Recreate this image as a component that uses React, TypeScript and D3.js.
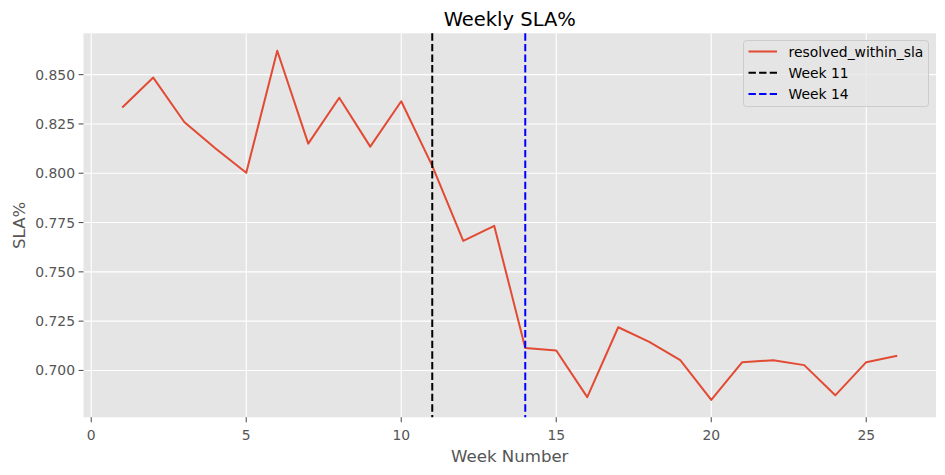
import React from "react";
import * as d3 from "d3";

const weeks: number[] = [1, 2, 3, 4, 5, 6, 7, 8, 9, 10, 11, 12, 13, 14, 15, 16, 17, 18, 19, 20, 21, 22, 23, 24, 25, 26];
const slaValues: number[] = [
  0.8333, 0.8485, 0.826, 0.8127, 0.8002, 0.8621, 0.815, 0.8383, 0.8135, 0.8365,
  0.8037, 0.7657, 0.7733, 0.7114, 0.7101, 0.6865, 0.7219, 0.7145, 0.7052, 0.6851,
  0.7042, 0.7052, 0.7027, 0.6874, 0.7042, 0.7075,
];
const xTicks: number[] = [0, 5, 10, 15, 20, 25];
const yTicks: number[] = [0.7, 0.725, 0.75, 0.775, 0.8, 0.825, 0.85];
const markerWeeks: number[] = [11, 14];
const markerLabels: string[] = ["Week 11", "Week 14"];
const markerColors: string[] = ["#000000", "#0000ff"];
const seriesName = "resolved_within_sla";

const W = 945;
const H = 475;
const left = 83.5;
const right = 936;
const top = 33.3;
const bottom = 417.3;
const FONT = "'DejaVu Sans', sans-serif";
const LINE = "#E24A33";

export default function App() {
  const [x0, x1] = d3.extent(weeks) as [number, number];
  const xp = (x1 - x0) * 0.05;
  const x = d3.scaleLinear().domain([x0 - xp, x1 + xp]).range([left, right]);
  const [y0, y1] = d3.extent(slaValues) as [number, number];
  const yp = (y1 - y0) * 0.05;
  const y = d3.scaleLinear().domain([y0 - yp, y1 + yp]).range([bottom, top]);

  const line = d3
    .line<number>()
    .x((_, i) => x(weeks[i]))
    .y((d) => y(d));

  const legendX = 743.5;
  const legendY = 40.5;
  const legendW = 185;
  const legendH = 66;
  const rows = [
    { label: seriesName, color: LINE, dash: "none" },
    ...markerLabels.map((l, i) => ({ label: l, color: markerColors[i], dash: "5.5,2.4" })),
  ];

  return (
    <svg
      width={W}
      height={H}
      style={{ position: "absolute", left: 0, top: 0, display: "block", background: "#fff" }}
      fontFamily={FONT}
    >
      <rect x={left} y={top} width={right - left} height={bottom - top} fill="#E5E5E5" />
      {xTicks.map((t) => (
        <line key={"gx" + t} x1={x(t)} x2={x(t)} y1={top} y2={bottom} stroke="#fff" strokeWidth={1.1} />
      ))}
      {yTicks.map((t) => (
        <line key={"gy" + t} x1={left} x2={right} y1={y(t)} y2={y(t)} stroke="#fff" strokeWidth={1.1} />
      ))}
      {/* x ticks */}
      {xTicks.map((t) => (
        <g key={"tx" + t}>
          <line x1={x(t)} x2={x(t)} y1={bottom} y2={bottom + 4.9} stroke="#555" strokeWidth={1.1} />
          <text x={x(t)} y={439.5} textAnchor="middle" fontSize={13.9} fill="#555">
            {d3.format("d")(t)}
          </text>
        </g>
      ))}
      {yTicks.map((t) => (
        <g key={"ty" + t}>
          <line x1={left - 4.9} x2={left} y1={y(t)} y2={y(t)} stroke="#555" strokeWidth={1.1} />
          <text x={left - 8.5} y={y(t)} dy="0.36em" textAnchor="end" fontSize={13.9} fill="#555">
            {d3.format(".3f")(t)}
          </text>
        </g>
      ))}
      <path d={line(slaValues) || ""} fill="none" stroke={LINE} strokeWidth={2} strokeLinejoin="round" />
      {markerWeeks.map((w, i) => (
        <line
          key={"m" + w}
          x1={x(w)}
          x2={x(w)}
          y1={top}
          y2={bottom}
          stroke={markerColors[i]}
          strokeWidth={2}
          strokeDasharray="7.4,3.2"
        />
      ))}
      {/* legend */}
      <rect
        x={legendX}
        y={legendY}
        width={legendW}
        height={legendH}
        rx={3}
        fill="#E5E5E5"
        fillOpacity={0.8}
        stroke="#CCCCCC"
        strokeWidth={1}
      />
      {rows.map((r, i) => {
        const cy = 51.5 + i * 21.2;
        return (
          <g key={"lg" + i}>
            <line
              x1={748.5}
              x2={777}
              y1={cy}
              y2={cy}
              stroke={r.color}
              strokeWidth={2}
              strokeDasharray={r.dash === "none" ? undefined : "7.4,3.2"}
            />
            <text x={788.5} y={cy} dy="0.36em" fontSize={13.9} fill="#000">
              {r.label}
            </text>
          </g>
        );
      })}
      <text x={(left + right) / 2} y={26} textAnchor="middle" fontSize={19.5} fill="#000">
        Weekly SLA%
      </text>
      <text x={(left + right) / 2} y={461.5} textAnchor="middle" fontSize={16.6} fill="#555">
        Week Number
      </text>
      <text
        transform={`translate(24.5, ${(top + bottom) / 2}) rotate(-90)`}
        textAnchor="middle"
        fontSize={16.6}
        fill="#555"
      >
        SLA%
      </text>
    </svg>
  );
}
